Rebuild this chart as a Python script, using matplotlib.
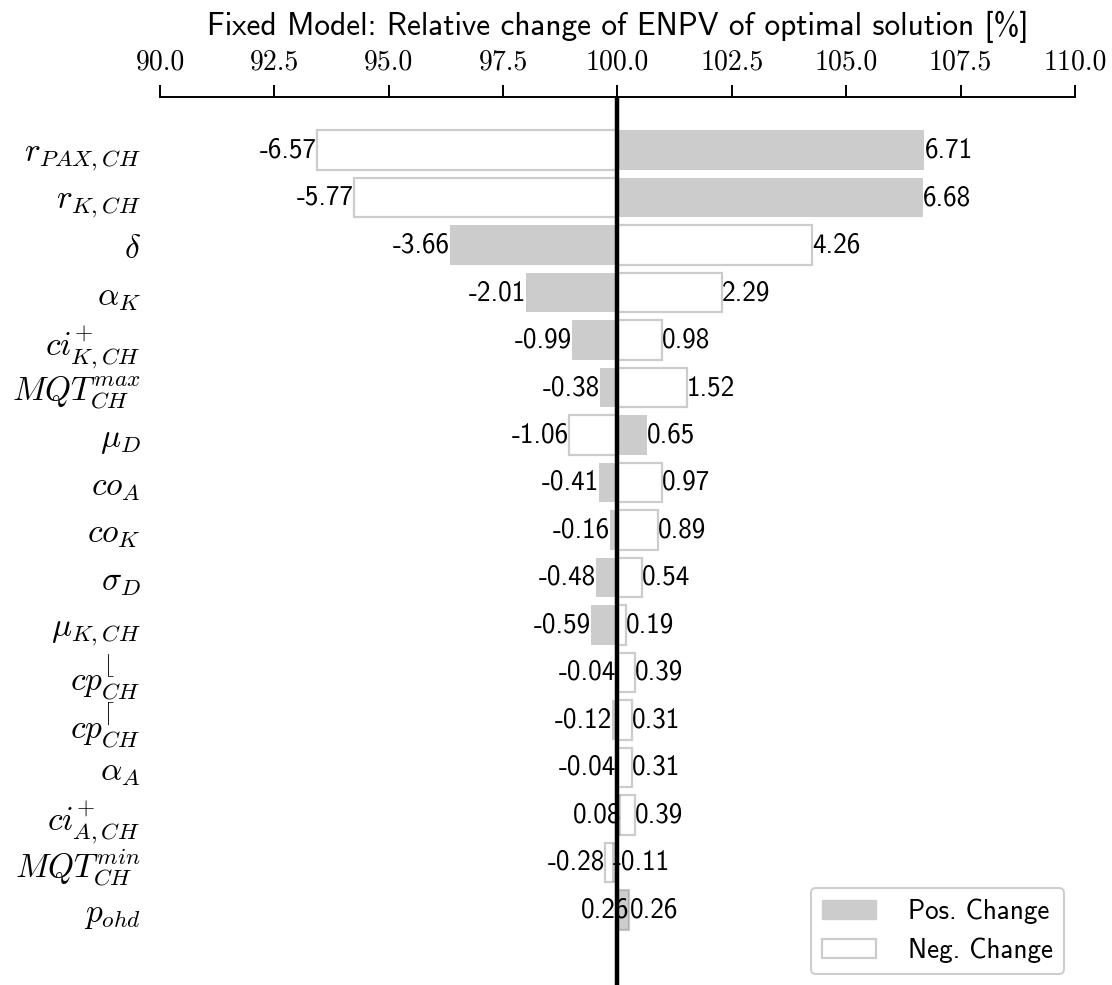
#!/usr/bin/env python

import numpy as np
import matplotlib
matplotlib.use("Agg")
import matplotlib.pyplot as plt
from matplotlib.patches import Patch

plt.rcParams['mathtext.fontset'] = 'cm'

params = [r'$r_{PAX,CH}$', r'$r_{K,CH}$', r'$\delta$', r'$\alpha_K$',
          r'$ci^{+}_{K,CH}$', r'$MQT^{max}_{CH}$', r'$\mu_D$', r'$co_A$',
          r'$co_K$', r'$\sigma_D$', r'$\mu_{K,CH}$', r'$cp^{\lfloor}_{CH}$',
          r'$cp^{\lceil}_{CH}$', r'$\alpha_A$', r'$ci^{+}_{A,CH}$',
          r'$MQT^{min}_{CH}$', r'$p_{ohd}$']

# relative change of ENPV [%] for a positive / negative parameter change
pos_change = [6.71, 6.68, -3.66, -2.01, -0.99, -0.38, 0.65, -0.41, -0.16,
              -0.48, -0.59, -0.04, -0.12, -0.04, 0.08, -0.11, 0.26]
neg_change = [-6.57, -5.77, 4.26, 2.29, 0.98, 1.52, -1.06, 0.97, 0.89,
              0.54, 0.19, 0.39, 0.31, 0.31, 0.39, -0.28, 0.26]

base = 100.0
xticks = [90.0, 92.5, 95.0, 97.5, 100.0, 102.5, 105.0, 107.5, 110.0]

pos = np.array(pos_change)
neg = np.array(neg_change)
y = np.arange(len(params))
h = 0.84

fig = plt.figure(figsize=(11.12, 9.85), dpi=100)
ax = fig.add_axes([0.1439, 0.0, 0.8228, 0.9015])

ax.barh(y, neg, left=base, height=h, facecolor='white',
        edgecolor='#cccccc', linewidth=1.6, zorder=2)
ax.barh(y, pos, left=base, height=h, color='gray', alpha=0.4,
        linewidth=0, zorder=3)
ax.axvline(base, color='black', linewidth=3.2, zorder=5)

lo = np.minimum(pos, neg)
hi = np.maximum(pos, neg)
for i in range(len(params)):
    ax.text(base + lo[i], y[i], '%.2f' % lo[i], ha='right', va='center',
            family='cmss10', fontsize=19.5, zorder=6)
    ax.text(base + hi[i], y[i], '%.2f' % hi[i], ha='left', va='center',
            family='cmss10', fontsize=19.5, zorder=6)

ax.set_xlim(90, 110)
ax.set_ylim(17.58, -1.116)
ax.xaxis.tick_top()
ax.xaxis.set_label_position('top')
ax.set_xticks(xticks)
ax.set_xticklabels(['%.1f' % t for t in xticks], family='cmr10', fontsize=20)
ax.tick_params(axis='x', length=8.5, width=1.4, pad=7)
ax.set_xlabel('Fixed Model: Relative change of ENPV of optimal solution [%]',
              family='cmss10', fontsize=22.5, labelpad=10)

ax.set_yticks(y)
ax.set_yticklabels(params, fontsize=24)
ax.tick_params(axis='y', length=0, pad=14)

for s in ['bottom', 'left', 'right']:
    ax.spines[s].set_visible(False)
ax.spines['top'].set_linewidth(1.4)

handles = [Patch(facecolor='#cccccc', edgecolor='#cccccc', label='Pos. Change'),
           Patch(facecolor='white', edgecolor='#cccccc', linewidth=1.6,
                 label='Neg. Change')]
leg = ax.legend(handles=handles, loc='lower right',
                prop={'family': 'cmss10', 'size': 19.5},
                framealpha=1, handlelength=2.0, handletextpad=1.2,
                borderaxespad=0.4)
leg.get_frame().set_linewidth(1.4)

plt.savefig('out.png', dpi=100)
